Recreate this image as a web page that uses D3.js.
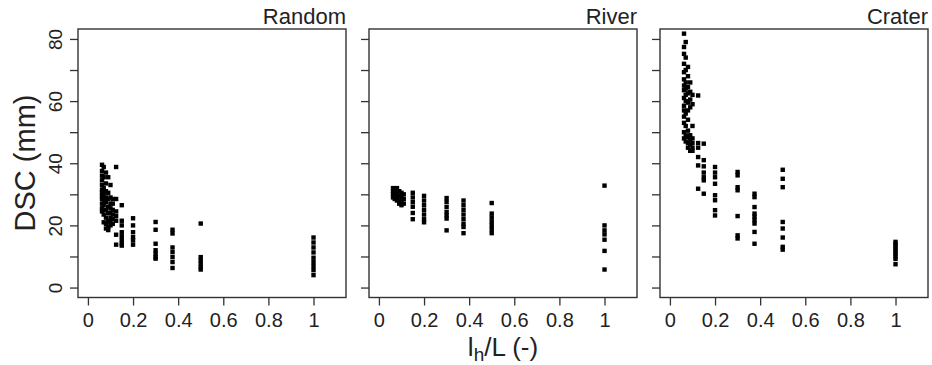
<!DOCTYPE html>
<html>
<head>
<meta charset="utf-8">
<script src="https://cdn.jsdelivr.net/npm/d3@7"></script>
<style>
  body { margin: 0; background: #fff; }
  text { font-family: "Liberation Sans", Arial, sans-serif; fill: #222; }
</style>
</head>
<body>
<svg id="chart" width="932" height="365"></svg>
<script>
// each group: [l_h/L, [DSC values in mm]]
var randomGroups = [
  [0.0625, [39.5, 37.5, 36, 34.5, 33, 31.5, 30.5, 29.5, 28.5, 27, 25.5, 24.5]],
  [0.07,   [38.8, 35.5, 32, 30, 28, 26.5, 23.5, 21]],
  [0.08,   [37, 33.5, 31, 29, 27.5, 25, 22.5, 20.5, 19]],
  [0.09,   [35.5, 30.5, 28.5, 26, 24, 21.5, 19.5, 18.5]],
  [0.1,    [33, 29, 27, 25.5, 24, 22.5, 21, 20]],
  [0.11,   [28.5, 27, 25, 23.5, 22, 20.5]],
  [0.125,  [38.8, 28.5, 24.5, 23, 21.5, 17, 13.8]],
  [0.15,   [26.5, 21.5, 20, 17.8, 16.5, 15.3, 14.2, 13.5]],
  [0.2,    [22.3, 20, 17.8, 16.2, 15.2, 13.8]],
  [0.3,    [21.1, 18.6, 14.1, 12, 10.9, 9.8, 9.3]],
  [0.375,  [18.6, 17.4, 12.9, 11.4, 9.8, 8.2, 6.3]],
  [0.5,    [20.6, 9.8, 8.8, 7.7, 6.6, 5.8]],
  [1,      [16.1, 14.5, 12.9, 11.3, 9.6, 8.2, 6.9, 5.6, 4.0]]
];

var riverGroups = [
  [0.0625, [32, 31, 30, 29]],
  [0.07,   [31.5, 30.5, 29.5, 28.5]],
  [0.08,   [32, 30, 29, 28]],
  [0.09,   [31, 29.5, 28, 27]],
  [0.1,    [30.5, 29, 27.5, 26.5]],
  [0.11,   [30, 28.5, 27]],
  [0.15,   [30.5, 29, 27.5, 26, 24, 22]],
  [0.2,    [29.5, 28, 26.5, 25, 23.5, 22, 21]],
  [0.3,    [28.8, 27.5, 25.9, 24.3, 23.2, 22.2, 18.4]],
  [0.375,  [28, 26.5, 25, 23.5, 22, 20.5, 19.5, 17.5]],
  [0.5,    [27.2, 23.8, 22.5, 21.2, 20, 18.8, 17.5]],
  [1,      [32.8, 20, 18.4, 17.1, 15.4, 11.8, 5.8]]
];

var craterGroups = [
  [0.0625, [81.7, 77.4, 75.2, 72, 69.3, 67, 65, 63.5, 61, 58.5, 57, 55, 53, 50, 48]],
  [0.07,   [79, 74, 70, 66, 64, 62, 60, 56, 52, 49, 47]],
  [0.08,   [71, 68, 64.5, 62.5, 59.5, 57, 54, 50.5, 48.5, 46.5, 45]],
  [0.09,   [66, 63, 60.5, 58, 49, 47.5, 46, 44]],
  [0.1,    [62, 59, 52, 48, 46.5, 45, 44]],
  [0.125,  [61.8, 46.5, 45, 42, 39.3, 31.8]],
  [0.15,   [46.3, 41, 39, 37, 35.5, 34.5, 30.2]],
  [0.2,    [38.8, 37, 35.5, 33.4, 29.7, 28.1, 24.9, 23.2]],
  [0.3,    [37.2, 36.1, 32.3, 31.3, 23, 16.8, 15.8]],
  [0.375,  [30.2, 29.1, 25.9, 23.8, 22.8, 21.7, 20.6, 17.9, 14.1]],
  [0.5,    [37.9, 35, 32.3, 21.1, 19, 16.1, 13.1, 12.2]],
  [1,      [14.7, 14, 13.2, 12.4, 11.6, 10.8, 10, 9.2, 7.5]]
];

var panelNames = ['Random', 'River', 'Crater'];
var panelData = [randomGroups, riverGroups, craterGroups];
var xTicks = [0, 0.2, 0.4, 0.6, 0.8, 1];
var xTickLabels = ['0', '0.2', '0.4', '0.6', '0.8', '1'];
var yTicks = [0, 10, 20, 30, 40, 50, 60, 70, 80];

var svg = d3.select('#chart');

var panelW = 268, panelH = 268.5, panelTop = 29;
var lefts = [78, 369, 660];

var y = d3.scaleLinear()
  .domain([-3.2, 83.2])
  .range([panelTop + panelH, panelTop]);

var drawPanel = function (i) {
  var left = lefts[i];
  var x = d3.scaleLinear()
    .domain([-0.044, 1.144])
    .range([left, left + panelW]);

  var g = svg.append('g');

  // points
  var pts = [];
  panelData[i].forEach(function (grp) {
    grp[1].forEach(function (v) { pts.push({ x: grp[0], y: v }); });
  });
  g.selectAll('rect.pt')
    .data(pts)
    .enter()
    .append('rect')
    .attr('class', 'pt')
    .attr('x', function (d) { return x(d.x) - 2.2; })
    .attr('y', function (d) { return y(d.y) - 2.2; })
    .attr('width', 4.4)
    .attr('height', 4.4)
    .attr('fill', '#000');

  // frame
  g.append('rect')
    .attr('x', left)
    .attr('y', panelTop)
    .attr('width', panelW)
    .attr('height', panelH)
    .attr('fill', 'none')
    .attr('stroke', '#333')
    .attr('stroke-width', 1.4);

  // x axis
  var xAxis = d3.axisBottom(x)
    .tickValues(xTicks)
    .tickSize(8)
    .tickPadding(7)
    .tickFormat(function (d, k) { return xTickLabels[k]; });
  var xg = g.append('g')
    .attr('transform', 'translate(0,' + (panelTop + panelH) + ')')
    .call(xAxis);
  xg.select('.domain').remove();
  xg.selectAll('line').attr('stroke', '#333').attr('stroke-width', 1.3);
  xg.selectAll('text')
    .style('font-family', '"Liberation Sans", Arial, sans-serif')
    .style('font-size', '20px')
    .attr('fill', '#222');

  // y axis (labels only on the first panel, rotated as in R)
  var yAxis = d3.axisLeft(y)
    .tickValues(yTicks)
    .tickSize(8)
    .tickFormat(function (d) { return (i === 0 && d % 20 === 0) ? String(d) : ''; });
  var yg = g.append('g')
    .attr('transform', 'translate(' + left + ',0)')
    .call(yAxis);
  yg.select('.domain').remove();
  yg.selectAll('line').attr('stroke', '#333').attr('stroke-width', 1.3);
  yg.selectAll('text')
    .attr('x', null)
    .attr('dy', null)
    .attr('text-anchor', 'middle')
    .attr('transform', 'translate(-16,0) rotate(-90)')
    .style('font-family', '"Liberation Sans", Arial, sans-serif')
    .style('font-size', '19px')
    .attr('fill', '#222');

  // panel title
  g.append('text')
    .attr('x', left + panelW)
    .attr('y', 24)
    .attr('text-anchor', 'end')
    .style('font-size', '22px')
    .text(panelNames[i]);
};

for (var i = 0; i < panelNames.length; i++) {
  drawPanel(i);
}

// y axis title
svg.append('text')
  .attr('transform', 'translate(35,163) rotate(-90)')
  .attr('text-anchor', 'middle')
  .style('font-size', '29px')
  .text('DSC (mm)');

// x axis title
var xt = svg.append('text')
  .attr('x', (lefts[1] + lefts[1] + panelW) / 2)
  .attr('y', 356)
  .attr('text-anchor', 'middle')
  .style('font-size', '26px');
xt.append('tspan').text('l');
xt.append('tspan').attr('dy', 5).style('font-size', '19px').text('h');
xt.append('tspan').attr('dy', -5).text('/L (-)');
</script>
</body>
</html>
